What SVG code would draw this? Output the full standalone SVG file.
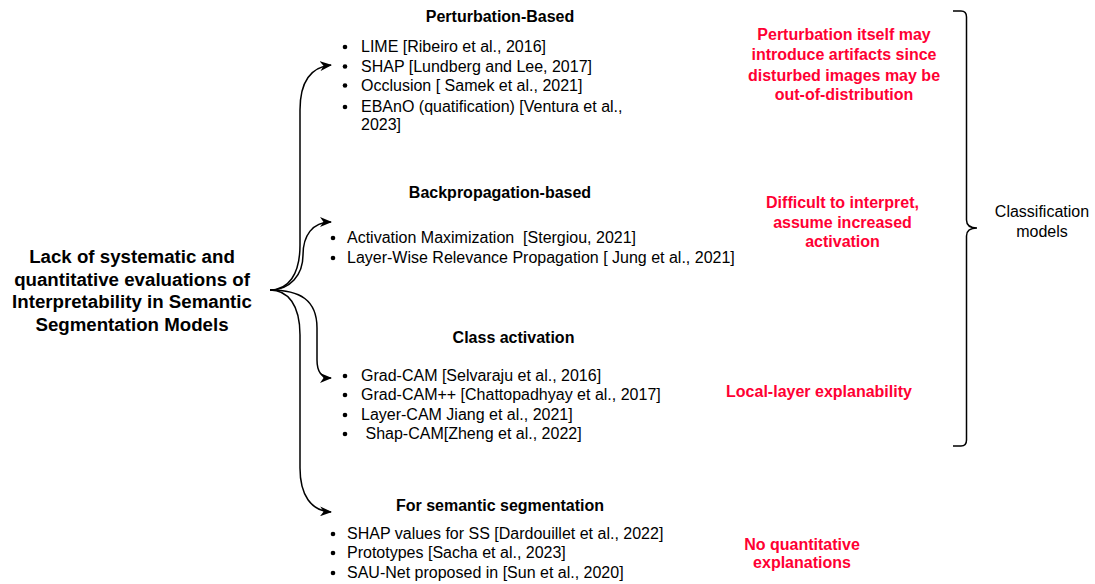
<svg xmlns="http://www.w3.org/2000/svg" width="1095" height="584" viewBox="0 0 1095 584">
<defs>
<style>
text{font-family:"Liberation Sans",Arial,sans-serif;fill:#000}
.t{font-size:18.7px;font-weight:bold;text-anchor:middle}
.h{font-size:16px;font-weight:bold;text-anchor:middle}
.l{font-size:16px}
.r{font-size:16px;font-weight:bold;text-anchor:middle;fill:#FF0033}
.c{font-size:16px;text-anchor:middle}
.e{fill:none;stroke:#000;stroke-width:1.5}
</style>
<marker id="ah" viewBox="0 0 12 10" refX="11" refY="5" markerWidth="12" markerHeight="10" markerUnits="userSpaceOnUse" orient="auto">
<path d="M0,0 L12,5 L0,10 L3.5,5 Z" fill="#000"/>
</marker>
</defs>
<rect width="1095" height="584" fill="#fff"/>
<g id="connectors">
<path class="e" marker-end="url(#ah)" d="M270,290 C288,290 300,275 300,245 L300,110 C300,82 311,67 331,65"/>
<path class="e" marker-end="url(#ah)" d="M270,290 C290,290 303,275 303,255 C303,236 312,222 331,222"/>
<path class="e" marker-end="url(#ah)" d="M270,290 C300,290 317,300 317,328 L317,360 C317,372 322,378 331,378"/>
<path class="e" marker-end="url(#ah)" d="M270,290 C288,290 300,305 300,335 L300,468 C300,495 311,511 331,512"/>
</g>
<g id="root">
<text class="t" x="132" y="263">Lack of systematic and</text>
<text class="t" x="132" y="285.5">quantitative evaluations of</text>
<text class="t" x="132" y="308">Interpretability in Semantic</text>
<text class="t" x="132" y="330.5">Segmentation Models</text>
</g>
<g id="perturbation">
<text class="h" x="500" y="22">Perturbation-Based</text>
<g fill="#000"><circle cx="345" cy="47" r="2.3"/><circle cx="345" cy="66.5" r="2.3"/><circle cx="345" cy="85.5" r="2.3"/><circle cx="345" cy="107" r="2.3"/></g>
<text class="l" x="361" y="52">LIME [Ribeiro et al., 2016]</text>
<text class="l" x="361" y="71.5">SHAP [Lundberg and Lee, 2017]</text>
<text class="l" x="361" y="90.5">Occlusion [ Samek et al., 2021]</text>
<text class="l" x="361" y="112">EBAnO (quatification) [Ventura et al.,</text>
<text class="l" x="361" y="130">2023]</text>
</g>
<g id="backprop">
<text class="h" x="500" y="198">Backpropagation-based</text>
<g fill="#000"><circle cx="333" cy="238" r="2.3"/><circle cx="333" cy="258" r="2.3"/></g>
<text class="l" x="347" y="243" xml:space="preserve">Activation Maximization  [Stergiou, 2021]</text>
<text class="l" x="347" y="263">Layer-Wise Relevance Propagation [ Jung et al., 2021]</text>
</g>
<g id="classact">
<text class="h" x="513.5" y="343">Class activation</text>
<g fill="#000"><circle cx="345" cy="376" r="2.3"/><circle cx="345" cy="395" r="2.3"/><circle cx="345" cy="415" r="2.3"/><circle cx="345" cy="434" r="2.3"/></g>
<text class="l" x="361" y="381">Grad-CAM [Selvaraju et al., 2016]</text>
<text class="l" x="361" y="400">Grad-CAM++ [Chattopadhyay et al., 2017]</text>
<text class="l" x="361" y="420">Layer-CAM Jiang et al., 2021]</text>
<text class="l" x="365.5" y="439">Shap-CAM[Zheng et al., 2022]</text>
</g>
<g id="semseg">
<text class="h" x="500" y="511">For semantic segmentation</text>
<g fill="#000"><circle cx="333" cy="534" r="2.3"/><circle cx="333" cy="553" r="2.3"/><circle cx="333" cy="573" r="2.3"/></g>
<text class="l" x="347" y="539">SHAP values for SS [Dardouillet et al., 2022]</text>
<text class="l" x="347" y="558">Prototypes [Sacha et al., 2023]</text>
<text class="l" x="347" y="578">SAU-Net proposed in [Sun et al., 2020]</text>
</g>
<g id="note1">
<text class="r" x="844" y="40">Perturbation itself may</text>
<text class="r" x="844" y="60">introduce artifacts since</text>
<text class="r" x="844" y="81">disturbed images may be</text>
<text class="r" x="844" y="99.5">out-of-distribution</text>
</g>
<g id="note2">
<text class="r" x="842.5" y="208">Difficult to interpret,</text>
<text class="r" x="842.5" y="227.5">assume increased</text>
<text class="r" x="842.5" y="247">activation</text>
</g>
<g id="note3">
<text class="r" x="819" y="397">Local-layer explanability</text>
</g>
<g id="note4">
<text class="r" x="802" y="550">No quantitative</text>
<text class="r" x="802" y="568">explanations</text>
</g>
<g id="brace">
<path class="e" d="M953,11 L961,11 Q966.5,11 966.5,17 L966.5,220 Q966.5,228 977,228 Q966.5,228 966.5,236 L966.5,440 Q966.5,446 961,446 L953,446"/>
</g>
<g id="classification">
<text class="c" x="1042" y="217">Classification</text>
<text class="c" x="1042" y="237">models</text>
</g>
</svg>
